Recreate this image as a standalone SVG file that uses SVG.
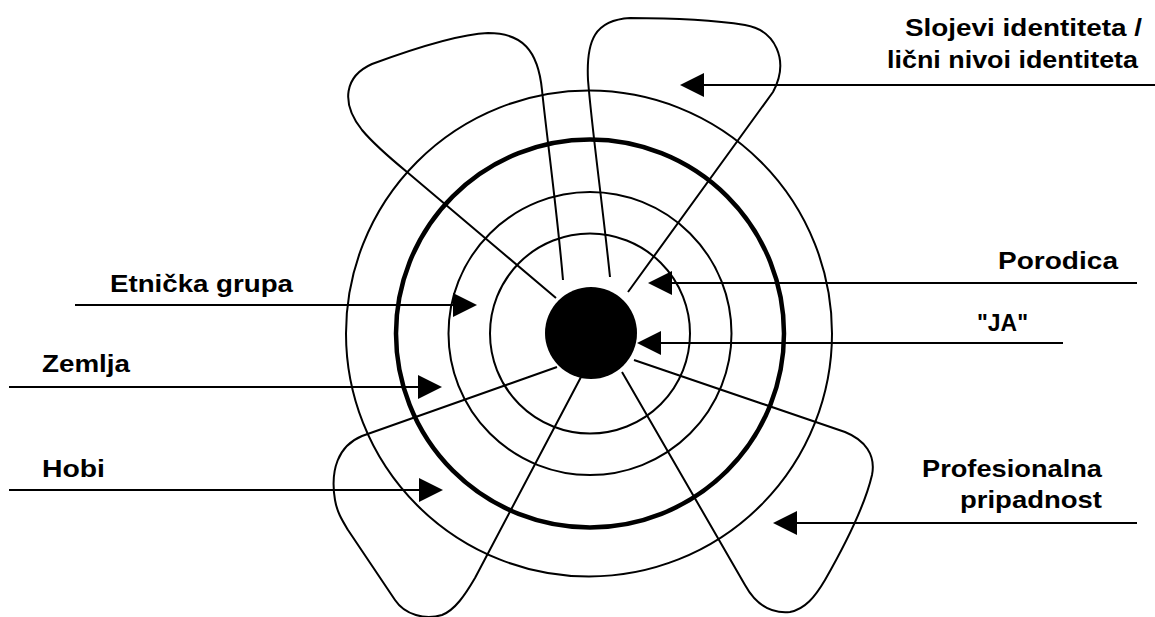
<svg xmlns="http://www.w3.org/2000/svg" width="1155" height="617" viewBox="0 0 1155 617">
  <style>
    .ring { fill: none; stroke: #000; stroke-width: 2; }
    .thick { fill: none; stroke: #000; stroke-width: 4.5; }
    .lobe { fill: none; stroke: #000; stroke-width: 2; stroke-linejoin: round; }
    .conn { fill: none; stroke: #000; stroke-width: 2; marker-end: url(#ah); }
    .lbl { font-family: "Liberation Sans", Arial, Helvetica, sans-serif; font-weight: bold; font-size: 24px; fill: #000; }
  </style>
  <defs>
    <marker id="ah" viewBox="-22 -13 28 26" refX="0" refY="0" markerWidth="28" markerHeight="26" markerUnits="userSpaceOnUse" orient="auto">
      <path d="M-20,-12 L4,0 L-20,12 Z" fill="#000"/>
    </marker>
  </defs>
  <rect width="1155" height="617" fill="#fff"/>

  <g id="rings">
    <circle class="ring" cx="590" cy="333.5" r="100"/>
    <circle class="ring" cx="590" cy="333.5" r="141.5"/>
    <circle class="thick" cx="590" cy="333.5" r="194"/>
    <circle class="ring" cx="589" cy="333.5" r="243"/>
  </g>

  <g id="lobes">
    <path id="lobe-top-left" class="lobe" d="M563,280 C557,210 546,130 542,90 C538,50 522,33 488,33 C460,34 410,50 372,64 C345,76 340,102 362,130 C372,142 390,158 407,172 L556,298"/>
    <path id="lobe-top-right" class="lobe" d="M610,277 C602,200 592,130 588,80 C586,40 595,20 630,18 C680,18 720,21 745,25 C775,30 790,60 773,92 L628,292"/>
    <path id="lobe-bottom-left" class="lobe" d="M557,367 L362,436 C338,446 330,470 335,500 C337,512 342,520 348,530 L395,600 C405,615 425,620 442,615 C455,610 465,595 475,578 L581,377"/>
    <path id="lobe-bottom-right" class="lobe" d="M622,372 L745,585 C755,603 770,614 790,612 C805,609 815,597 825,580 C845,545 865,505 872,475 C876,455 865,440 845,432 L634,360"/>
  </g>

  <g id="node-ja">
    <circle cx="591" cy="333" r="46" fill="#000"/>
  </g>

  <g id="connectors">
    <line class="conn" x1="1155" y1="85" x2="684" y2="85"/>
    <line class="conn" x1="1137" y1="283" x2="652" y2="283"/>
    <line class="conn" x1="1063" y1="343" x2="641" y2="343"/>
    <line class="conn" x1="1137" y1="523" x2="777" y2="523"/>
    <line class="conn" x1="75" y1="305" x2="473" y2="305"/>
    <line class="conn" x1="9" y1="387" x2="438" y2="387"/>
    <line class="conn" x1="9" y1="490" x2="439" y2="490"/>
  </g>

  <g id="label-slojevi">
    <text class="lbl" x="905" y="36" textLength="237" lengthAdjust="spacingAndGlyphs">Slojevi identiteta /</text>
    <text class="lbl" x="887" y="68" textLength="251" lengthAdjust="spacingAndGlyphs">lični nivoi identiteta</text>
  </g>
  <g id="label-porodica">
    <text class="lbl" x="998" y="269" textLength="120" lengthAdjust="spacingAndGlyphs">Porodica</text>
  </g>
  <g id="label-ja">
    <text class="lbl" x="977" y="331" textLength="51" lengthAdjust="spacingAndGlyphs">"JA"</text>
  </g>
  <g id="label-profesionalna">
    <text class="lbl" x="922" y="477" textLength="180" lengthAdjust="spacingAndGlyphs">Profesionalna</text>
    <text class="lbl" x="960" y="508" textLength="142" lengthAdjust="spacingAndGlyphs">pripadnost</text>
  </g>
  <g id="label-etnicka">
    <text class="lbl" x="110" y="292" textLength="183" lengthAdjust="spacingAndGlyphs">Etnička grupa</text>
  </g>
  <g id="label-zemlja">
    <text class="lbl" x="42" y="372" textLength="88" lengthAdjust="spacingAndGlyphs">Zemlja</text>
  </g>
  <g id="label-hobi">
    <text class="lbl" x="42" y="477" textLength="63" lengthAdjust="spacingAndGlyphs">Hobi</text>
  </g>
</svg>
